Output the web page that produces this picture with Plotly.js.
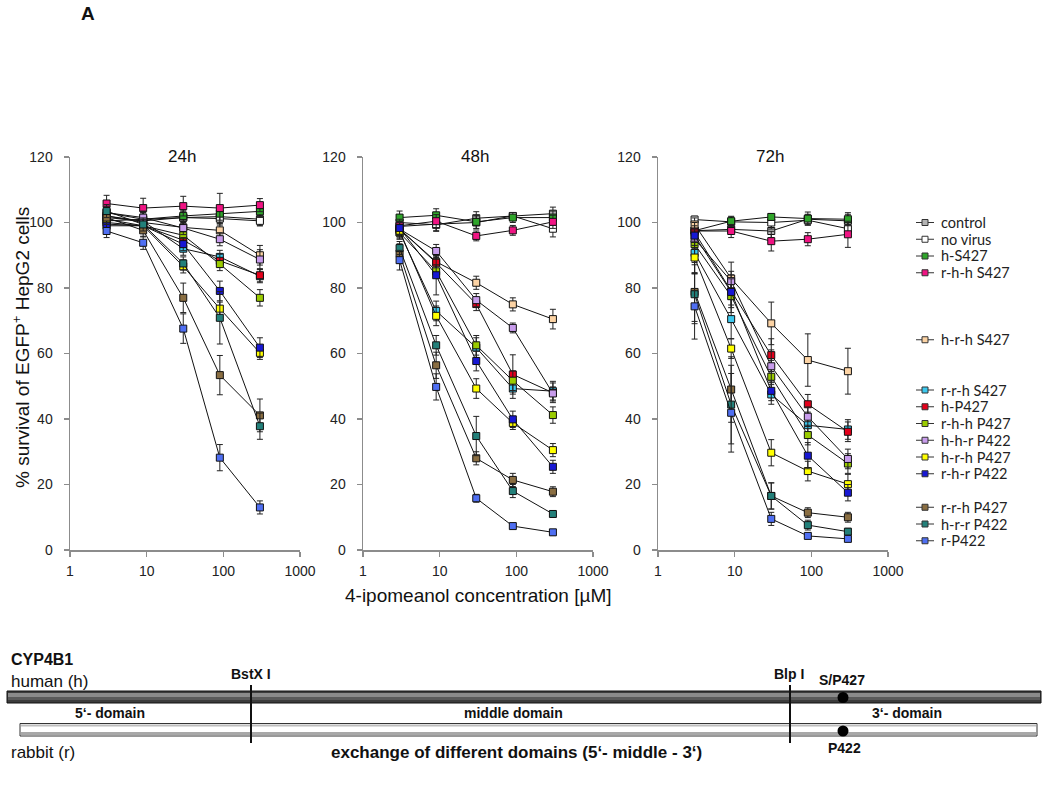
<!DOCTYPE html>
<html><head><meta charset="utf-8">
<script src="https://cdn.plot.ly/plotly-3.0.1.min.js"></script>
<style>html,body{margin:0;padding:0;background:#fff}#chart{width:1050px;height:788px}</style>
</head><body><div id="chart"></div>
<script>
// ---------- data ----------
const concentrations = [3, 9, 30, 90, 300];
const panelTitles = ['24h', '48h', '72h'];
const seriesNames = ['control','no virus','h-S427','r-h-h S427','h-r-h S427','r-r-h S427','h-P427',
  'r-h-h P427','h-h-r P422','h-r-h P427','r-h-r P422','r-r-h P427','h-r-r P422','r-P422'];
const seriesColors = ['#b4b4b4','#ffffff','#2fa52a','#f01483','#fcd3a4','#3cc8ee','#e4001b',
  '#9acb00','#c89cec','#ffff00','#1818d4','#8a6e42','#23807a','#4f6ff2'];
// legend groups (blank rows between groups as in the original)
const legendGroups = [[0,1,2,3],[4],[5,6,7,8,9,10],[11,12,13]];

const survival24h = [
  [101.5, 100.5, 101.5, 101.8, 101.0],
  [100.5, 101.0, 101.5, 101.2, 100.5],
  [103.0, 101.0, 102.0, 102.7, 103.4],
  [105.8, 104.4, 105.0, 104.4, 105.3],
  [102.0, 100.0, 98.5, 97.6, 90.0],
  [102.0, 100.4, 92.0, 89.5, 83.6],
  [101.0, 99.0, 94.6, 88.3, 83.9],
  [99.5, 99.0, 96.1, 87.3, 77.0],
  [103.0, 101.5, 98.3, 94.9, 88.7],
  [100.0, 99.0, 86.6, 73.7, 60.2],
  [99.0, 99.0, 93.4, 79.1, 61.8],
  [101.5, 97.6, 77.0, 53.4, 41.1],
  [103.5, 99.4, 87.5, 70.9, 37.8],
  [97.4, 93.8, 67.6, 28.2, 13.0]
];
const error24h = [
  [2,2,2,2,2],[2,2,2,2,1.5],[2,2,2,2,1.5],[2.5,3,3,4.5,2],[2,2,2,2,3],[2,2,2,2,2],[2,2,2,2,2],
  [2,2,2,2,2.5],[2,2,2,2,3],[2,2,2,2,2],[2,2,2,3,3],[2,2,4.5,6,5],[2,2,2,8,4],[2,2,4.5,4,2]
];
const survival48h = [
  [100.0, 99.3, 101.3, 101.9, 102.7],
  [98.8, 99.5, 100.0, 102.0, 98.1],
  [101.5, 102.2, 100.2, 101.5, 101.5],
  [99.0, 100.4, 95.9, 97.6, 100.2],
  [98.0, 88.0, 81.6, 75.0, 70.5],
  [97.0, 73.0, 61.8, 49.3, 48.5],
  [98.0, 87.7, 75.1, 53.6, 48.0],
  [96.9, 85.1, 62.5, 51.7, 41.2],
  [98.0, 91.3, 76.3, 67.8, 47.8],
  [97.5, 71.5, 49.3, 38.8, 30.5],
  [98.3, 83.9, 57.7, 39.9, 25.4],
  [90.5, 56.4, 28.0, 21.4, 17.8],
  [92.2, 62.5, 34.8, 18.0, 11.0],
  [88.5, 49.8, 15.8, 7.3, 5.4]
];
const error48h = [
  [2,2,2,1,2],[2,2,2,1,2.5],[2,2,2,1.5,2],[2,2,1.5,1.5,2],[2,2,2,2,3],[2,3,3,3,3],[2,2,2,6,3],
  [2,2,3,3,2.5],[2,2,2,1.5,2],[2,3,3,2,2],[2,6,3,2.5,2],[3,4,2,2,1.5],[2,3,6,2,1],[3,4,1.2,0.8,0.8]
];
const survival72h = [
  [97.5, 97.9, 97.4, 101.0, 100.5],
  [100.9, 100.2, 100.0, 100.7, 98.1],
  [97.5, 100.4, 101.7, 101.2, 101.0],
  [97.4, 97.4, 94.3, 94.9, 96.4],
  [99.4, 82.9, 69.2, 58.0, 54.6],
  [90.7, 70.5, 47.5, 38.1, 36.8],
  [97.0, 79.0, 59.5, 44.5, 36.1],
  [93.4, 77.5, 52.9, 35.1, 26.4],
  [95.0, 82.1, 56.1, 40.7, 27.8],
  [89.3, 61.5, 29.7, 24.1, 20.1],
  [96.0, 78.8, 48.6, 28.8, 17.5],
  [78.8, 49.0, 16.5, 11.4, 10.0],
  [78.1, 44.4, 16.5, 7.6, 5.6],
  [74.4, 41.9, 9.5, 4.3, 3.4]
];
const error72h = [
  [1.5,1.5,2,1.5,2],[1,1.5,2,1.5,2],[1.5,1.5,1,2,2],[1.5,2,3,2,4],[2,5,6.5,8,7],[6,6,3,4,3],[3,5,5,3,3],
  [4,5,5,3,3],[3,3,5,3,3],[5,3,4,3,3],[3,4,3,4,2.5],[9,10,4,1.5,1.5],[9,12,4,1.5,1],[10,12,2,0.7,0.7]
];
const xTickValues = [1, 10, 100, 1000];
const xTickLabels = ['1', '10', '100', '1000'];

// ---------- layout helpers ----------
const W = 1050, H = 788;
const px = x => x / W;
const py = y => 1 - y / H;
const panelData = [survival24h, survival48h, survival72h];
const panelErr = [error24h, error48h, error72h];
const xDomainsPx = [[70, 300], [363, 593], [658, 888]];
const yDomainPx = [157, 550];
const tickFont = {family: 'Liberation Sans, Arial, sans-serif', size: 14, color: '#222'};
const axisColor = '#8c8c8c';

const traces = [];
panelData.forEach((data, p) => {
  const xa = p === 0 ? 'x' : 'x' + (p + 1);
  const ya = p === 0 ? 'y' : 'y' + (p + 1);
  data.forEach((vals, s) => {
    traces.push({
      type: 'scatter', mode: 'lines+markers',
      x: concentrations, y: vals, name: seriesNames[s],
      xaxis: xa, yaxis: ya, showlegend: false, cliponaxis: false,
      line: {color: '#111', width: 1},
      marker: {symbol: 'square', size: 7, color: seriesColors[s], line: {color: '#111', width: 1}},
      error_y: {type: 'data', array: panelErr[p][s], visible: true, color: '#222', thickness: 1, width: 3}
    });
  });
});

const layout = {
  width: W, height: H,
  margin: {l: 0, r: 0, t: 0, b: 0},
  paper_bgcolor: '#fff', plot_bgcolor: 'rgba(0,0,0,0)',
  showlegend: false,
  font: {family: 'Liberation Sans, Arial, sans-serif', color: '#111'},
  shapes: [], annotations: []
};
xDomainsPx.forEach((d, p) => {
  const suf = p === 0 ? '' : String(p + 1);
  layout['xaxis' + suf] = {
    type: 'log', range: [0, 3], domain: [px(d[0]), px(d[1])], anchor: 'y' + suf,
    tickvals: xTickValues, ticktext: xTickLabels, ticks: 'outside', ticklen: 5, tickcolor: axisColor,
    tickwidth: 1.5, showline: true, linecolor: axisColor, linewidth: 1.5, showgrid: false, zeroline: false,
    tickfont: tickFont, ticklabelstandoff: 3
  };
  layout['yaxis' + suf] = {
    range: [0, 120], domain: [py(yDomainPx[1]), py(yDomainPx[0])], anchor: 'x' + suf,
    dtick: 20, ticks: 'outside', ticklen: 5, tickcolor: axisColor, tickwidth: 1.5,
    showline: true, linecolor: axisColor, linewidth: 1.5, showgrid: false, zeroline: false,
    tickfont: tickFont, ticklabelstandoff: 8
  };
  layout.annotations.push({
    xref: 'paper', yref: 'paper', x: px((d[0] + d[1]) / 2 - 3), y: py(157), xanchor: 'center', yanchor: 'middle',
    text: panelTitles[p], showarrow: false, font: {size: 17, color: '#111'}
  });
});

// axis titles
layout.annotations.push({
  xref: 'paper', yref: 'paper', x: px(21), y: py(348), xanchor: 'center', yanchor: 'middle',
  text: '% survival of EGFP<sup>+</sup> HepG2 cells', textangle: -90, showarrow: false,
  font: {size: 19, color: '#111'}
});
layout.annotations.push({
  xref: 'paper', yref: 'paper', x: px(478), y: py(595), xanchor: 'center', yanchor: 'middle',
  text: '4-ipomeanol concentration [µM]', showarrow: false, font: {size: 19, color: '#111'}
});
layout.annotations.push({
  xref: 'paper', yref: 'paper', x: px(88), y: py(14), xanchor: 'center', yanchor: 'middle',
  text: '<b>A</b>', showarrow: false, font: {size: 19, color: '#111'}
});

// legend (manual, keeps the blank rows of the original)
let slot = 0;
legendGroups.forEach((grp, gi) => {
  grp.forEach(s => {
    const yy = 222.5 + slot * 16.75;
    layout.shapes.push({type: 'line', xref: 'paper', yref: 'paper', x0: px(916), x1: px(934), y0: py(yy), y1: py(yy),
      line: {color: '#333', width: 1}});
    layout.shapes.push({type: 'rect', xref: 'paper', yref: 'paper', x0: px(922), x1: px(928), y0: py(yy - 3), y1: py(yy + 3),
      fillcolor: seriesColors[s], line: {color: '#333', width: 1}});
    layout.annotations.push({xref: 'paper', yref: 'paper', x: px(939), y: py(yy), xanchor: 'left', yanchor: 'middle',
      text: seriesNames[s], showarrow: false, font: {family: 'Lato, sans-serif', size: 14.5, color: '#222'}});
    slot++;
  });
  slot += [3, 2, 1, 0][gi];
});

// ---------- CYP4B1 domain diagram ----------
const rectPx = (x0, x1, y0, y1, fill, line) => ({type: 'rect', xref: 'paper', yref: 'paper',
  x0: px(x0), x1: px(x1), y0: py(y1), y1: py(y0), fillcolor: fill, line: line || {width: 0}, layer: 'above'});
// human bar (dark)
layout.shapes.push(rectPx(7, 1041, 691, 703, '#3c3c3c', {color: '#111', width: 1}));
layout.shapes.push(rectPx(8, 1040, 693, 697, '#8a8a8a'));
layout.shapes.push(rectPx(8, 1040, 697, 700, '#5a5a5a'));
// rabbit bar (light)
layout.shapes.push(rectPx(20, 1037, 723.5, 736, '#ffffff', {color: '#333', width: 1}));
layout.shapes.push(rectPx(21, 1036, 724.5, 726.5, '#bdbdbd'));
layout.shapes.push(rectPx(21, 1036, 732, 735, '#a8a8a8'));
// restriction sites
[251, 790].forEach(x => layout.shapes.push({type: 'line', xref: 'paper', yref: 'paper',
  x0: px(x), x1: px(x), y0: py(685), y1: py(743), line: {color: '#111', width: 2}, layer: 'above'}));
// S/P427 and P422 positions
[697.5, 731].forEach(y => layout.shapes.push({type: 'circle', xref: 'paper', yref: 'paper',
  x0: px(843 - 5.5), x1: px(843 + 5.5), y0: py(y + 5.5), y1: py(y - 5.5), fillcolor: '#000', line: {width: 0}, layer: 'above'}));

const diagText = (x, y, text, size, anchor, bold) => layout.annotations.push({
  xref: 'paper', yref: 'paper', x: px(x), y: py(y), xanchor: anchor || 'center', yanchor: 'middle',
  text: bold ? '<b>' + text + '</b>' : text, showarrow: false,
  font: {family: 'Liberation Sans, Arial, sans-serif', size: size, color: '#111'}
});
diagText(9, 659, 'CYP4B1', 16, 'left', true);
diagText(9, 681, 'human (h)', 17, 'left', false);
diagText(9, 752, 'rabbit (r)', 17, 'left', false);
diagText(251, 674, 'BstX I', 14, 'center', true);
diagText(789, 674, 'Blp I', 14, 'center', true);
diagText(842, 680, 'S/P427', 14, 'center', true);
diagText(110, 713, '5‘- domain', 14, 'center', true);
diagText(513, 713, 'middle domain', 14, 'center', true);
diagText(907, 713, '3‘- domain', 14, 'center', true);
diagText(844, 748, 'P422', 14, 'center', true);
diagText(516, 752, 'exchange of different domains (5‘- middle - 3‘)', 17, 'center', true);

Plotly.newPlot('chart', traces, layout, {displayModeBar: false, staticPlot: true});
</script>
</body></html>
